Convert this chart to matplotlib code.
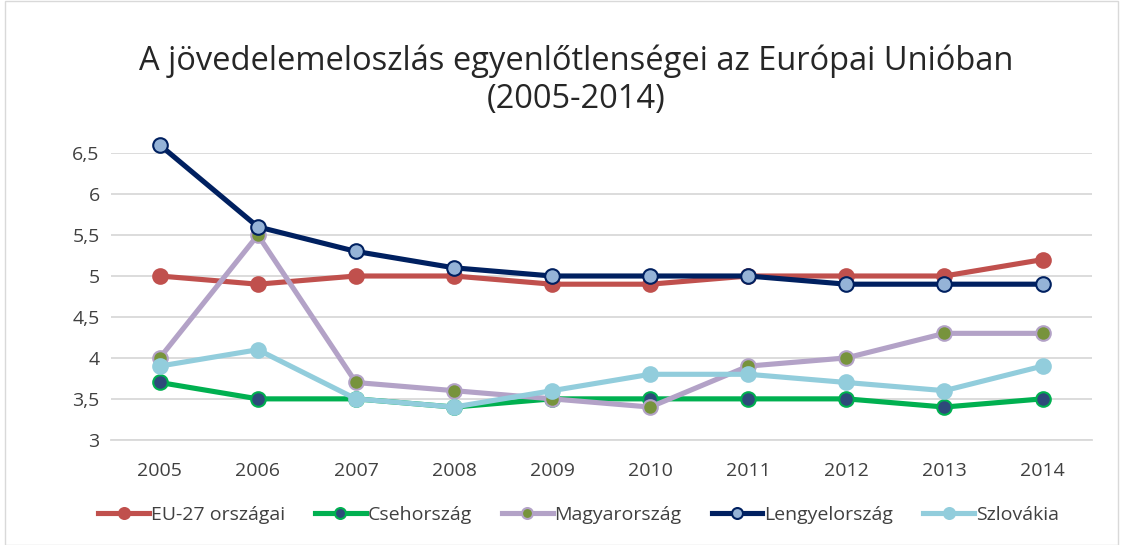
import matplotlib
matplotlib.use('Agg')
from matplotlib import pyplot as plt
from matplotlib.patches import Rectangle

plt.rcParams['font.family'] = ['Open Sans', 'DejaVu Sans']

years = ['2005', '2006', '2007', '2008', '2009', '2010', '2011', '2012', '2013', '2014']
eu27 = [5.0, 4.9, 5.0, 5.0, 4.9, 4.9, 5.0, 5.0, 5.0, 5.2]
cseh = [3.7, 3.5, 3.5, 3.4, 3.5, 3.5, 3.5, 3.5, 3.4, 3.5]
magyar = [4.0, 5.5, 3.7, 3.6, 3.5, 3.4, 3.9, 4.0, 4.3, 4.3]
lengyel = [6.6, 5.6, 5.3, 5.1, 5.0, 5.0, 5.0, 4.9, 4.9, 4.9]
szlovakia = [3.9, 4.1, 3.5, 3.4, 3.6, 3.8, 3.8, 3.7, 3.6, 3.9]
yticks = [3, 3.5, 4, 4.5, 5, 5.5, 6, 6.5]
ytick_labels = ['3', '3,5', '4', '4,5', '5', '5,5', '6', '6,5']

series = [
    ('EU-27 országai', eu27, '#C0504D', '#C0504D', '#C0504D'),
    ('Csehország', cseh, '#00B050', '#2E4A7A', '#00B050'),
    ('Magyarország', magyar, '#B3A2C7', '#77933C', '#B3A2C7'),
    ('Lengyelország', lengyel, '#002060', '#95B3D7', '#002060'),
    ('Szlovákia', szlovakia, '#92CDDC', '#92CDDC', '#92CDDC'),
]

fig = plt.figure(figsize=(11.3, 5.45), dpi=100)
ax = fig.add_axes([0.098, 0.193, 0.868, 0.526])

x = list(range(len(years)))
for name, vals, lc, mfc, mec in series:
    ax.plot(x, vals, color=lc, lw=3.7, marker='o', ms=10.5,
            markerfacecolor=mfc, markeredgecolor=mec, markeredgewidth=1.5,
            label=name, clip_on=False, zorder=3)

ax.set_xlim(-0.5, len(years) - 0.5)
ax.set_ylim(3, 6.5)
ax.set_xticks(x)
ax.set_xticklabels(years, fontsize=14, color='#404040')
ax.set_yticks(yticks)
ax.set_yticklabels(ytick_labels, fontsize=14, color='#404040')
ax.tick_params(axis='x', length=0, pad=16)
ax.tick_params(axis='y', length=0, pad=8)
ax.grid(axis='y', color='#D9D9D9', lw=1.3)
for s in ['top', 'left', 'right']:
    ax.spines[s].set_visible(False)
ax.spines['bottom'].set_color('#D9D9D9')
ax.spines['bottom'].set_linewidth(1.3)
ax.set_axisbelow(True)

fig.text(0.51, 0.853, 'A jövedelemeloszlás egyenlőtlenségei az Európai Unióban\n(2005-2014)',
         ha='center', va='center', fontsize=23.5, color='#262626', linespacing=1.2)

fig.legend(loc='center', bbox_to_anchor=(0.512, 0.055), ncol=5, frameon=False,
           fontsize=14, handlelength=2.6, handletextpad=0.1, columnspacing=1.55,
           markerscale=0.75, labelcolor='#404040')

fig.patches.append(Rectangle((0.004, 0.0), 0.985, 0.998, transform=fig.transFigure,
                             fill=False, edgecolor='#D9D9D9', lw=1))

fig.savefig('out.png', dpi=100)
